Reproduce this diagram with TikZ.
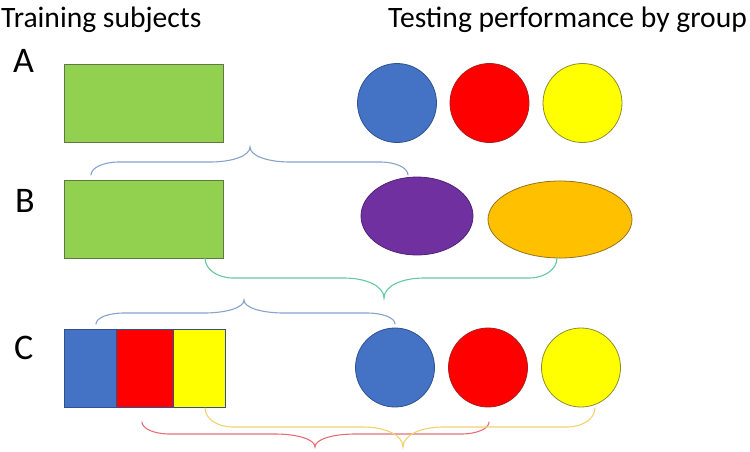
\documentclass[tikz,border=0pt]{standalone}
\usepackage{fontspec}
\setmainfont{Carlito}
\usetikzlibrary{calc}
\definecolor{cgreen}{RGB}{146,208,80}
\definecolor{cgreenb}{RGB}{95,120,70}
\definecolor{cblue}{RGB}{68,114,196}
\definecolor{cblueb}{RGB}{47,82,143}
\definecolor{cred}{RGB}{255,0,0}
\definecolor{credb}{RGB}{170,30,30}
\definecolor{cyel}{RGB}{255,255,0}
\definecolor{cyelb}{RGB}{140,140,50}
\definecolor{cpur}{RGB}{112,48,160}
\definecolor{cpurb}{RGB}{80,35,120}
\definecolor{corg}{RGB}{255,192,0}
\definecolor{corgb}{RGB}{150,115,30}
\definecolor{bbrace}{RGB}{135,162,205}
\definecolor{tbrace}{RGB}{100,200,160}
\definecolor{rbrace}{RGB}{230,110,120}
\definecolor{ybrace}{RGB}{240,210,110}
\tikzset{
  shapeline/.style={line width=0.8pt},
  brc/.style={line width=1.1pt, line cap=round},
  ttl/.style={font=\fontsize{29.6}{34}\selectfont, inner sep=0pt, anchor=base west},
  lbl/.style={font=\fontsize{36}{40}\selectfont, inner sep=0pt, anchor=base west},
}
% #1 style, #2 name, #3 Lx, #4 Ly, #5 Tx, #6 Ty, #7 Rx, #8 h
\newcommand\mybrace[8]{%
  \coordinate (#2L) at (#3,#4);
  \coordinate (#2T) at (#5,#6);
  \coordinate (#2R) at (#7,#4);
  \draw[brc,#1] (#2L)
    .. controls ({#3},{#8+(#4-#8)*0.45}) and ({#3+12},{#8}) .. ({#3+28},{#8})
    -- ({#5-40},{#8})
    .. controls ({#5-18},{#8}) and ({#5},{#8+(#6-#8)*0.4}) .. (#2T)
    .. controls ({#5},{#8+(#6-#8)*0.4}) and ({#5+18},{#8}) .. ({#5+40},{#8})
    -- ({#7-28},{#8})
    .. controls ({#7-12},{#8}) and ({#7},{#8+(#4-#8)*0.45}) .. (#2R);
}
\begin{document}
\begin{tikzpicture}[x=1pt,y=-1pt]
\useasboundingbox (0,0) rectangle (750,451);
% titles
\node[ttl] (t1) at (1,27) {Training subjects};
\node[ttl] (t2) at (388,27) {Testing performance by group};
\node[lbl] (la) at (13,72) {A};
\node[lbl] (lb) at (15,212) {B};
\node[lbl] (lc) at (14,359) {C};
% row A
\draw[shapeline,fill=cgreen,draw=cgreenb] (64,64) rectangle (223,142);
\draw[shapeline,fill=cblue,draw=cblueb] (397,103) circle[radius=39.5];
\draw[shapeline,fill=cred,draw=credb] (489.5,103) circle[radius=39.5];
\draw[shapeline,fill=cyel,draw=cyelb] (582.5,103) circle[radius=39.5];
% row B
\draw[shapeline,fill=cgreen,draw=cgreenb] (64,180) rectangle (223,258);
\draw[shapeline,fill=cpur,draw=cpurb] (417,216) ellipse[x radius=56,y radius=39];
\draw[shapeline,fill=corg,draw=corgb] (560,219.5) ellipse[x radius=72,y radius=38.5];
% row C
\draw[shapeline,fill=cblue,draw=cblueb] (64,329) rectangle (116,407);
\draw[shapeline,fill=cred,draw=cblueb] (116,329) rectangle (173,407);
\draw[shapeline,fill=cyel,draw=cblueb] (173,329) rectangle (225,407);
\draw[shapeline,draw=cblueb] (64,329) rectangle (225,407);
\draw[shapeline,fill=cblue,draw=cblueb] (395,367.5) circle[radius=39.5];
\draw[shapeline,fill=cred,draw=credb] (488,367.5) circle[radius=39.5];
\draw[shapeline,fill=cyel,draw=cyelb] (581,367.5) circle[radius=39.5];
% braces
\mybrace{draw=bbrace}{ba}{91}{175}{250}{147}{408}{162}
\mybrace{draw=tbrace}{bb}{205}{258}{384}{298}{557}{278}
\mybrace{draw=bbrace}{bc}{96}{324}{244}{300}{395}{313}
\mybrace{draw=rbrace}{bd}{142}{422}{315}{447}{489}{434}
\mybrace{draw=ybrace}{be}{205}{408}{403}{447}{595}{427}
\end{tikzpicture}
\end{document}
